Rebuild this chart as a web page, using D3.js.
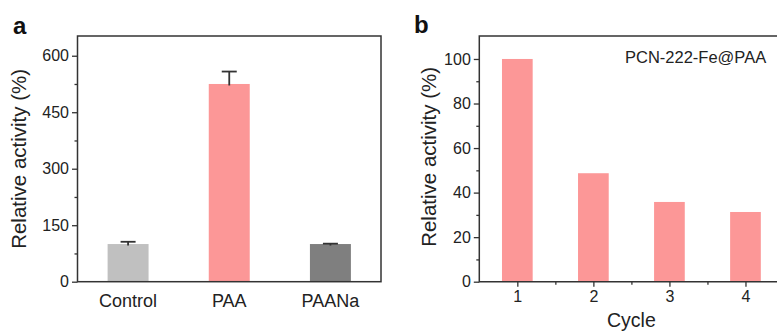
<!DOCTYPE html>
<html>
<head>
<meta charset="utf-8">
<script src="https://cdn.jsdelivr.net/npm/d3@7"></script>
<style>
  html, body { margin: 0; padding: 0; background: #fff; }
  svg { display: block; font-family: "Liberation Sans", Arial, sans-serif; }
</style>
</head>
<body>
<svg id="chart" width="777" height="331"></svg>
<script>
// Panel a: relative activity of the three treatments
const groups = ["Control", "PAA", "PAANa"];
const groupValues = [100, 525, 100];
const groupErrors = [6, 33, 1];
const groupColors = ["#c0c0c0", "#fc9797", "#7f7f7f"];
const aTicks = [0, 150, 300, 450, 600];
const aMinorTicks = [75, 225, 375, 525];

// Panel b: activity over repeated cycles
const cycles = [1, 2, 3, 4];
const cycleValues = [100, 48.7, 35.8, 31.3];
const bTicks = [0, 20, 40, 60, 80, 100];
const bMinorTicks = [10, 30, 50, 70, 90];
const bXMinorTicks = [1.5, 2.5, 3.5];
const sampleName = "PCN-222-Fe@PAA";

const ink = "#333";
const textInk = "#222";
const svg = d3.select("#chart");

function styleAxis(g) {
  g.selectAll(".domain").remove();
  g.selectAll(".tick line").attr("stroke", ink).attr("stroke-width", 1.3);
  g.selectAll(".tick text").attr("fill", textInk);
}

// ---------- panel a ----------
const aX0 = 77.5, aX1 = 381, aTop = 36, aBot = 281.7;
const ya = d3.scaleLinear().domain([0, 650]).range([aBot, aTop + 0.9]);
const xa = d3.scaleBand().domain(groups).range([aX0, aX1])
  .paddingInner(0.595).paddingOuter(0.2975);

const pa = svg.append("g");

pa.selectAll("rect.bar").data(groups).join("rect")
  .attr("class", "bar")
  .attr("x", d => xa(d))
  .attr("width", xa.bandwidth())
  .attr("y", (d, i) => ya(groupValues[i]))
  .attr("height", (d, i) => aBot - ya(groupValues[i]))
  .attr("fill", (d, i) => groupColors[i]);

// upper error bars
const capW = 15;
const errG = pa.append("g").attr("stroke", ink).attr("stroke-width", 1.8);
groups.forEach((d, i) => {
  const cx = xa(d) + xa.bandwidth() / 2;
  errG.append("line")
    .attr("x1", cx).attr("x2", cx)
    .attr("y1", ya(groupValues[i]) + 1.5).attr("y2", ya(groupValues[i] + groupErrors[i]));
  errG.append("line")
    .attr("x1", cx - capW / 2).attr("x2", cx + capW / 2)
    .attr("y1", ya(groupValues[i] + groupErrors[i])).attr("y2", ya(groupValues[i] + groupErrors[i]));
});

const aAxis = pa.append("g").attr("transform", `translate(${aX0},0)`)
  .call(d3.axisLeft(ya).tickValues(aTicks).tickSize(5.5).tickPadding(3))
  .attr("font-size", 16).attr("font-family", null);
styleAxis(aAxis);
const aMinor = pa.append("g").attr("transform", `translate(${aX0},0)`)
  .call(d3.axisLeft(ya).tickValues(aMinorTicks).tickSize(3).tickFormat(""));
styleAxis(aMinor);

const aXAxis = pa.append("g").attr("transform", `translate(0,${aBot})`)
  .call(d3.axisBottom(xa).tickSize(0).tickPadding(13))
  .attr("font-size", 18).attr("font-family", null);
styleAxis(aXAxis);

pa.append("rect")
  .attr("x", aX0).attr("y", aTop)
  .attr("width", aX1 - aX0).attr("height", aBot - aTop)
  .attr("fill", "none").attr("stroke", ink).attr("stroke-width", 1.5);

pa.append("text")
  .attr("transform", `translate(26,${(aTop + aBot) / 2}) rotate(-90)`)
  .attr("text-anchor", "middle").attr("font-size", 20.5).attr("fill", textInk)
  .text("Relative activity (%)");

pa.append("text")
  .attr("x", 13).attr("y", 34)
  .attr("font-size", 24).attr("font-weight", "bold").attr("fill", "#111")
  .text("a");

// ---------- panel b ----------
const bX0 = 479.3, bX1 = 783.5, bTop = 36, bBot = 281.7;
const yb = d3.scaleLinear().domain([0, 110]).range([bBot, bTop + 0.7]);
const xb = d3.scaleLinear().domain([0.5, 4.5]).range([bX0, bX1]);
const bBarW = 30.7;

const pb = svg.append("g");

pb.selectAll("rect.bar").data(cycles).join("rect")
  .attr("class", "bar")
  .attr("x", d => xb(d) - bBarW / 2)
  .attr("width", bBarW)
  .attr("y", (d, i) => yb(cycleValues[i]))
  .attr("height", (d, i) => bBot - yb(cycleValues[i]))
  .attr("fill", "#fc9797");

const bAxis = pb.append("g").attr("transform", `translate(${bX0},0)`)
  .call(d3.axisLeft(yb).tickValues(bTicks).tickSize(5.5).tickPadding(3))
  .attr("font-size", 16).attr("font-family", null);
styleAxis(bAxis);
const bMinor = pb.append("g").attr("transform", `translate(${bX0},0)`)
  .call(d3.axisLeft(yb).tickValues(bMinorTicks).tickSize(3).tickFormat(""));
styleAxis(bMinor);

const bXAxis = pb.append("g").attr("transform", `translate(0,${bBot})`)
  .call(d3.axisBottom(xb).tickValues(cycles).tickSize(5).tickPadding(4).tickFormat(d3.format("d")))
  .attr("font-size", 16).attr("font-family", null);
styleAxis(bXAxis);
const bXMinor = pb.append("g").attr("transform", `translate(0,${bBot})`)
  .call(d3.axisBottom(xb).tickValues(bXMinorTicks).tickSize(3).tickFormat(""));
styleAxis(bXMinor);

pb.append("path")
  .attr("d", `M${bX1},${bTop}H${bX0}V${bBot}H${bX1}`)
  .attr("fill", "none").attr("stroke", ink).attr("stroke-width", 1.5);

pb.append("text")
  .attr("x", 625).attr("y", 62.5)
  .attr("font-size", 16.5).attr("fill", textInk)
  .text(sampleName);

pb.append("text")
  .attr("transform", `translate(436,${(bTop + bBot) / 2 - 2}) rotate(-90)`)
  .attr("text-anchor", "middle").attr("font-size", 20.5).attr("fill", textInk)
  .text("Relative activity (%)");

pb.append("text")
  .attr("x", (bX0 + bX1) / 2).attr("y", 326.5)
  .attr("text-anchor", "middle").attr("font-size", 19.5).attr("fill", textInk)
  .text("Cycle");

pb.append("text")
  .attr("x", 414).attr("y", 32.5)
  .attr("font-size", 24).attr("font-weight", "bold").attr("fill", "#111")
  .text("b");
</script>
</body>
</html>
